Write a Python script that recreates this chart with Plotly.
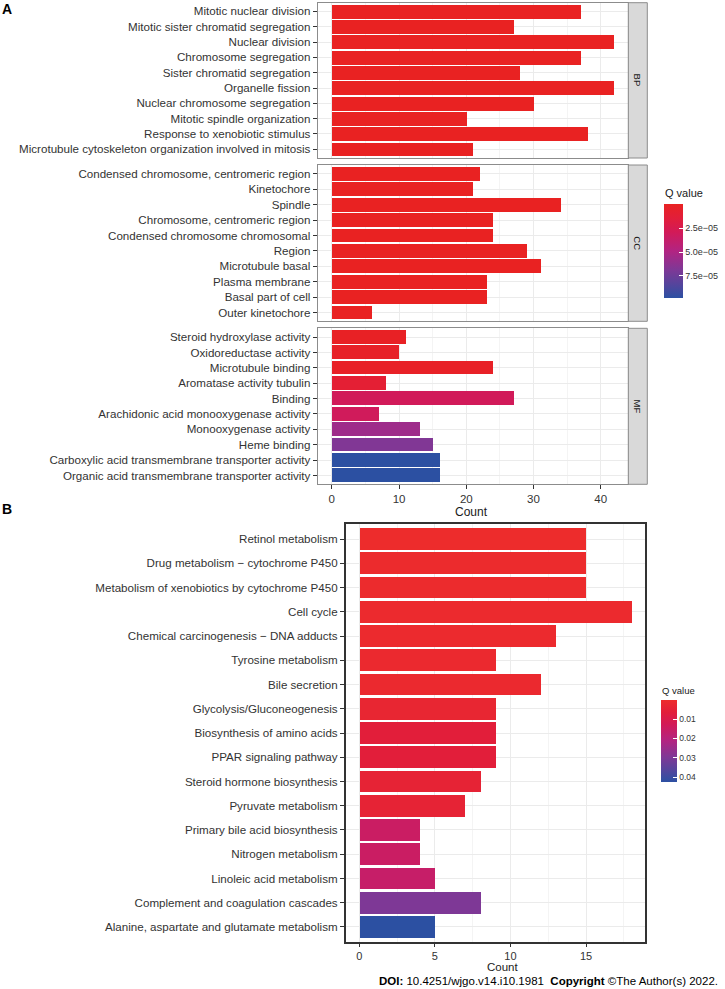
import plotly.graph_objects as go

# ---------------- DATA ----------------
bp_terms = ["Mitotic nuclear division", "Mitotic sister chromatid segregation", "Nuclear division",
            "Chromosome segregation", "Sister chromatid segregation", "Organelle fission",
            "Nuclear chromosome segregation", "Mitotic spindle organization",
            "Response to xenobiotic stimulus", "Microtubule cytoskeleton organization involved in mitosis"]
bp_count = [37, 27, 42, 37, 28, 42, 30, 20, 38, 21]
bp_q = [1e-12, 1e-11, 1e-12, 1e-12, 1e-11, 1e-12, 1e-11, 1e-9, 1e-10, 1e-8]

cc_terms = ["Condensed chromosome, centromeric region", "Kinetochore", "Spindle",
            "Chromosome, centromeric region", "Condensed chromosome chromosomal", "Region",
            "Microtubule basal", "Plasma membrane", "Basal part of cell", "Outer kinetochore"]
cc_count = [22, 21, 34, 24, 24, 29, 31, 23, 23, 6]
cc_q = [1e-10, 1e-10, 1e-10, 1e-10, 1e-10, 1e-9, 1e-9, 1e-8, 1e-8, 1e-7]

mf_terms = ["Steroid hydroxylase activity", "Oxidoreductase activity", "Microtubule binding",
            "Aromatase activity tubulin", "Binding", "Arachidonic acid monooxygenase activity",
            "Monooxygenase activity", "Heme binding", "Carboxylic acid transmembrane transporter activity",
            "Organic acid transmembrane transporter activity"]
mf_count = [11, 10, 24, 8, 27, 7, 13, 15, 16, 16]
mf_q = [2e-6, 4e-6, 3e-6, 1.1e-5, 3.0e-5, 3.1e-5, 5.7e-5, 6.8e-5, 9.85e-5, 9.85e-5]

kegg_terms = ["Retinol metabolism", "Drug metabolism \u2212 cytochrome P450",
              "Metabolism of xenobiotics by cytochrome P450", "Cell cycle",
              "Chemical carcinogenesis \u2212 DNA adducts", "Tyrosine metabolism", "Bile secretion",
              "Glycolysis/Gluconeogenesis", "Biosynthesis of amino acids", "PPAR signaling pathway",
              "Steroid hormone biosynthesis", "Pyruvate metabolism", "Primary bile acid biosynthesis",
              "Nitrogen metabolism", "Linoleic acid metabolism", "Complement and coagulation cascades",
              "Alanine, aspartate and glutamate metabolism"]
kegg_count = [15, 15, 15, 18, 13, 9, 12, 9, 9, 9, 8, 7, 4, 4, 5, 8, 5]
kegg_q = [0.0002, 0.0008, 0.0008, 0.001, 0.001, 0.0015, 0.0015, 0.003, 0.0065, 0.0065,
          0.0044, 0.0044, 0.015, 0.015, 0.016, 0.0297, 0.0424]

a_ticks = [0, 10, 20, 30, 40]
b_ticks = [0, 5, 10, 15]
a_cbar_ticks = [2.5e-5, 5.0e-5, 7.5e-5]
a_cbar_text = ["2.5e\u221205", "5.0e\u221205", "7.5e\u221205"]
b_cbar_ticks = [0.01, 0.02, 0.03, 0.04]
b_cbar_text = ["0.01", "0.02", "0.03", "0.04"]

# ---------------- helpers ----------------
W, H = 725, 989
def xp(px): return px / W
def yp(py): return 1 - py / H

# colour ramp (blue = high Q, red = low Q)
def make_scale(red):
    return [[0.0, "rgb(44,80,162)"], [0.15, "rgb(86,68,156)"], [0.3, "rgb(126,56,150)"],
            [0.5, "rgb(178,36,130)"], [0.7, "rgb(210,26,88)"], [0.85, "rgb(226,30,58)"],
            [1.0, red]]
scale_a = make_scale("rgb(233,34,34)")
scale_b = make_scale("rgb(237,44,44)")

FONT = "Liberation Sans"
TXT = "#333333"
GRID = "#EBEBEB"
BORDER_A = "#8C8C8C"
BORDER_B = "#333333"
LBL = 11.6

fig = go.Figure()

panels = [(bp_terms, bp_count, bp_q, "x2", "y"),
          (cc_terms, cc_count, cc_q, "x3", "y2"),
          (mf_terms, mf_count, mf_q, "x", "y3")]
for terms, cnt, q, xa, ya in panels:
    fig.add_trace(go.Bar(x=cnt, y=terms, orientation="h", width=0.9,
                         marker=dict(color=[-v for v in q], coloraxis="coloraxis", line=dict(width=0)),
                         xaxis=xa, yaxis=ya, showlegend=False))

fig.add_trace(go.Bar(x=kegg_count, y=kegg_terms, orientation="h", width=0.9,
                     marker=dict(color=[-v for v in kegg_q], coloraxis="coloraxis2", line=dict(width=0)),
                     xaxis="x4", yaxis="y4", showlegend=False))

A_L, A_R = 317.7, 628.3
A_ROWS = [(2.7, 158.0), (165.0, 321.3), (328.3, 484.3)]
B_L, B_R, B_T, B_B = 345.7, 645.0, 524.0, 942.0

xa_common = dict(range=[-2.1, 44.1], showline=True, mirror=True, linecolor=BORDER_A, linewidth=1,
                 showgrid=True, gridcolor=GRID, gridwidth=1, zeroline=False, automargin=False,
                 minor=dict(dtick=5, tick0=0, showgrid=True, gridcolor="#F4F4F4", gridwidth=0.6),
                 domain=[xp(A_L), xp(A_R)], fixedrange=True)
fig.update_layout(
    xaxis=dict(**xa_common, anchor="y3", tickvals=a_ticks, ticks="outside", ticklen=4,
               tickcolor=TXT, tickfont=dict(family=FONT, size=11.5, color=TXT)),
    xaxis2=dict(**xa_common, anchor="y", matches="x", showticklabels=False, ticks=""),
    xaxis3=dict(**xa_common, anchor="y2", matches="x", showticklabels=False, ticks=""),
)
for i, (terms, key, xk) in enumerate([(bp_terms, "yaxis", "x2"), (cc_terms, "yaxis2", "x3"),
                                       (mf_terms, "yaxis3", "x")]):
    t, b = A_ROWS[i]
    n = len(terms)
    fig.layout[key] = dict(domain=[yp(b), yp(t)], anchor=xk, type="category",
                           categoryorder="array", categoryarray=terms, automargin=False,
                           range=[n - 1 + 0.57, -0.57], showline=True, mirror=True,
                           linecolor=BORDER_A, linewidth=1, showgrid=True, gridcolor=GRID,
                           ticks="outside", ticklen=4, tickcolor=TXT,
                           tickfont=dict(family=FONT, size=LBL, color=TXT), fixedrange=True)

nb = len(kegg_terms)
fig.update_layout(
    xaxis4=dict(anchor="y4", domain=[xp(B_L), xp(B_R)], range=[-0.9, 18.9], tickvals=b_ticks,
                showline=True, mirror=True, linecolor=BORDER_B, linewidth=1.5, automargin=False,
                showgrid=True, gridcolor=GRID, zeroline=False, ticks="outside", ticklen=3,
                tickcolor=TXT, tickfont=dict(family=FONT, size=11, color=TXT),
                minor=dict(dtick=2.5, tick0=0, showgrid=True, gridcolor="#F4F4F4", gridwidth=0.6),
                fixedrange=True),
    yaxis4=dict(anchor="x4", domain=[yp(B_B), yp(B_T)], type="category", categoryorder="array",
                categoryarray=kegg_terms, range=[nb - 1 + 0.62, -0.62], showline=True, mirror=True,
                linecolor=BORDER_B, linewidth=1.5, showgrid=True, gridcolor=GRID, automargin=False,
                ticks="outside", ticklen=4, tickcolor=TXT,
                tickfont=dict(family=FONT, size=LBL, color=TXT), fixedrange=True),
)

qa_min, qa_max = min(bp_q + cc_q + mf_q), max(bp_q + cc_q + mf_q)
qb_min, qb_max = min(kegg_q), max(kegg_q)
fig.update_layout(
    coloraxis=dict(colorscale=scale_a, cmin=-qa_max, cmax=-qa_min,
                   colorbar=dict(x=xp(664.3), xanchor="left", y=yp(204.3), yanchor="top",
                                 xpad=0, ypad=0, lenmode="pixels", len=94,
                                 thicknessmode="pixels", thickness=19, outlinewidth=0,
                                 tickvals=[-v for v in a_cbar_ticks], ticktext=a_cbar_text,
                                 ticks="inside", ticklen=4, tickcolor="white", tickwidth=1,
                                 tickfont=dict(family=FONT, size=9, color=TXT))),
    coloraxis2=dict(colorscale=scale_b, cmin=-qb_max, cmax=-qb_min,
                    colorbar=dict(x=xp(661), xanchor="left", y=yp(700), yanchor="top",
                                  xpad=0, ypad=0, lenmode="pixels", len=81.5,
                                  thicknessmode="pixels", thickness=16, outlinewidth=0,
                                  tickvals=[-v for v in b_cbar_ticks], ticktext=b_cbar_text,
                                  ticks="inside", ticklen=4, tickcolor="white", tickwidth=1,
                                  tickfont=dict(family=FONT, size=8.5, color=TXT))),
)

shapes, annos = [], []
for (t, b), lab in zip(A_ROWS, ["BP", "CC", "MF"]):
    shapes.append(dict(type="rect", xref="paper", yref="paper", x0=xp(A_R), x1=xp(647.3),
                       y0=yp(b), y1=yp(t), fillcolor="#D9D9D9", line=dict(color=BORDER_A, width=1),
                       layer="above"))
    annos.append(dict(text=lab, x=xp((A_R + 647.3) / 2), y=yp((t + b) / 2), xref="paper",
                      yref="paper", showarrow=False, textangle=90, xanchor="center", yanchor="middle",
                      font=dict(family=FONT, size=9.5, color="#1A1A1A")))

def note(text, x, y, size, xanchor="center", color="#1A1A1A"):
    return dict(text=text, x=xp(x), y=yp(y), xref="paper", yref="paper", showarrow=False,
                xanchor=xanchor, yanchor="middle", font=dict(family=FONT, size=size, color=color))

annos += [
    note("<b>A</b>", 0, 9.5, 14, "left", "#000"),
    note("<b>B</b>", 0, 509, 14, "left", "#000"),
    note("Count", 472, 512, 12),
    note("Count", 502, 966.5, 11.5),
    note("Q value", 663, 193, 11, "left"),
    note("Q value", 660, 690, 9.5, "left"),
    note("<b>DOI:</b> 10.4251/wjgo.v14.i10.1981  <b>Copyright</b> \u00a9The Author(s) 2022.",
         720, 981, 11.5, "right", "#000"),
]

fig.update_layout(width=W, height=H, margin=dict(l=0, r=0, t=0, b=0, autoexpand=False),
                  paper_bgcolor="white", plot_bgcolor="white", bargap=0,
                  shapes=shapes, annotations=annos, font=dict(family=FONT))

fig.write_html("out.html", config={"displayModeBar": False},
               post_script="document.body.style.margin='0px';")
